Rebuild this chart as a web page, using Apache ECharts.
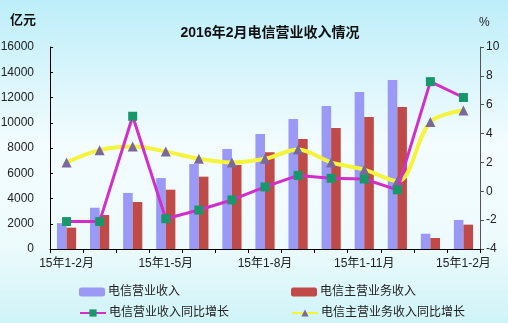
<!DOCTYPE html>
<html><head><meta charset="utf-8">
<script src="https://cdn.jsdelivr.net/npm/echarts@6/dist/echarts.min.js"></script>
<style>html,body{margin:0;padding:0;}#c{width:508px;height:323px;}</style>
</head><body><div id="c"></div>
<script>
const categories = ['15年1-2月','15年1-3月','15年1-4月','15年1-5月','15年1-6月','15年1-7月','15年1-8月','15年1-9月','15年1-10月','15年1-11月','15年1-12月','16年1月','15年1-2月'];
const telecomRevenue = [2050, 3270, 4440, 5620, 6730, 7920, 9110, 10300, 11330, 12430, 13390, 1210, 2300];
const mainBusinessRevenue = [1690, 2690, 3720, 4700, 5730, 6650, 7660, 8710, 9580, 10450, 11250, 870, 1930];
const telecomGrowth = [-2.1, -2.1, 5.2, -1.9, -1.3, -0.6, 0.3, 1.1, 0.9, 0.85, 0.1, 7.6, 6.5];
const mainGrowth = [2.0, 2.85, 3.1, 2.75, 2.25, 2.0, 2.25, 2.9, 2.0, 1.5, 0.7, 4.8, 5.6];
const leftTicks = {min: 0, max: 16000, interval: 2000};
const rightTicks = {min: -4, max: 10, interval: 2};
const names = ['电信营业收入','电信主营业务收入','电信营业收入同比增长','电信主营业务收入同比增长'];

const FONT = '"Liberation Sans","Noto Sans CJK SC",sans-serif';
const chart = echarts.init(document.getElementById('c'));
const legendBase = {orient:'horizontal', itemWidth:26, itemHeight:9, itemGap:4,
  textStyle:{fontSize:12, color:'#222', fontFamily:FONT, padding:[0,0,0,-2]}, padding:0};
chart.setOption({
  backgroundColor: new echarts.graphic.LinearGradient(0,0,0,1,[
    {offset:0,color:'#bdeef9'},{offset:0.45,color:'#f3fcfe'},{offset:0.75,color:'#eefbfd'},{offset:1,color:'#cff3f7'}]),
  textStyle:{fontFamily:FONT},
  title:{text:'2016年2月电信营业收入情况', left:265, textAlign:'center', top:21,
    textStyle:{fontSize:14, fontWeight:'bold', color:'#111', fontFamily:FONT}},
  graphic:[
    {type:'text', left:10, top:14, style:{text:'亿元', font:'bold 13px '+FONT, fill:'#111'}},
    {type:'text', left:479, top:17, style:{text:'%', font:'12px '+FONT, fill:'#222'}}
  ],
  grid:{left:50, right:28, top:47, bottom:74, containLabel:false, outerBoundsMode:'none'},
  legend:[
    Object.assign({}, legendBase, {left:79, top:286, data:[names[0]]}),
    Object.assign({}, legendBase, {left:291, top:286, data:[names[1]]}),
    Object.assign({}, legendBase, {left:79, top:307, data:[names[2]]}),
    Object.assign({}, legendBase, {left:291, top:307, data:[names[3]]})
  ],
  xAxis:{type:'category', data:categories, boundaryGap:true,
    axisLine:{lineStyle:{color:'#000', width:1}},
    axisTick:{show:true, interval:0, length:4, lineStyle:{color:'#000'}},
    axisLabel:{interval:2, margin:9, fontSize:12, color:'#222', fontFamily:FONT, hideOverlap:false}},
  yAxis:[
    {type:'value', min:leftTicks.min, max:leftTicks.max, interval:leftTicks.interval,
      axisLine:{show:true, lineStyle:{color:'#000'}},
      axisTick:{show:true, inside:true, length:3, lineStyle:{color:'#000'}},
      splitLine:{show:false},
      axisLabel:{fontSize:12, color:'#222', margin:16, fontFamily:FONT, formatter:v=>String(v)}},
    {type:'value', min:rightTicks.min, max:rightTicks.max, interval:rightTicks.interval, position:'right',
      axisLine:{show:true, lineStyle:{color:'#555'}},
      axisTick:{show:true, length:4, lineStyle:{color:'#555'}},
      splitLine:{show:false},
      axisLabel:{fontSize:12, color:'#222', margin:6, fontFamily:FONT}}
  ],
  series:[
    {name:names[0], type:'bar', data:telecomRevenue, barGap:'0%', barCategoryGap:'42%',
      itemStyle:{color:'#9a9af6'}},
    {name:names[1], type:'bar', data:mainBusinessRevenue,
      itemStyle:{color:'#bf4a47'}},
    {name:names[2], type:'line', yAxisIndex:1, data:telecomGrowth, symbol:'rect', symbolSize:9,
      lineStyle:{color:'#d22fc8', width:3}, itemStyle:{color:'#18986a', borderWidth:0}, z:4},
    {name:names[3], type:'line', yAxisIndex:1, data:mainGrowth, smooth:0.35, symbol:'triangle', symbolSize:10,
      lineStyle:{color:'#f4f43a', width:4}, itemStyle:{color:'#7a689c', borderWidth:0}, z:3}
  ]
});
</script></body></html>
